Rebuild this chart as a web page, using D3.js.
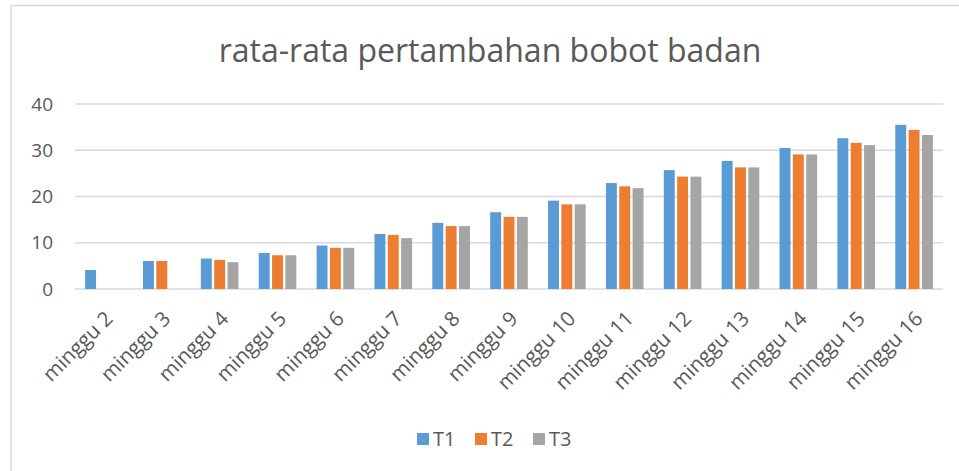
<!DOCTYPE html>
<html>
<head>
<meta charset="utf-8">
<script src="https://cdn.jsdelivr.net/npm/d3@7"></script>
<style>
  body { margin: 0; background: #fff; }
  text { font-family: "Open Sans", "Liberation Sans", sans-serif; fill: #595959; }
</style>
</head>
<body>
<svg id="chart"></svg>
<script>
// chart values
const categories = ['minggu 2', 'minggu 3', 'minggu 4', 'minggu 5', 'minggu 6', 'minggu 7', 'minggu 8',
  'minggu 9', 'minggu 10', 'minggu 11', 'minggu 12', 'minggu 13', 'minggu 14', 'minggu 15', 'minggu 16'];
const seriesNames = ['T1', 'T2', 'T3'];
const t1 = [4.1, 6.05, 6.6, 7.8, 9.4, 11.9, 14.3, 16.6, 19.1, 22.9, 25.7, 27.7, 30.5, 32.6, 35.5];
const t2 = [null, 6.05, 6.3, 7.3, 8.9, 11.7, 13.6, 15.6, 18.3, 22.2, 24.3, 26.3, 29.1, 31.6, 34.4];
const t3 = [null, null, 5.8, 7.3, 8.9, 11.0, 13.6, 15.6, 18.3, 21.8, 24.3, 26.3, 29.1, 31.1, 33.3];
const yTicks = [0, 10, 20, 30, 40];
const colors = ['#5B9BD5', '#ED7D31', '#A5A5A5'];

const width = 959, height = 471;
const margin = { top: 104, right: 16, bottom: 182, left: 75 };
const innerW = width - margin.left - margin.right;
const innerH = height - margin.top - margin.bottom;

const svg = d3.select('#chart').attr('width', width).attr('height', height);

// outer frame (top and left edges are visible in the picture)
svg.append('line').attr('x1', 11).attr('x2', width).attr('y1', 5.5).attr('y2', 5.5)
  .attr('stroke', '#d9d9d9').attr('stroke-width', 1.5);
svg.append('line').attr('x1', 11).attr('x2', 11).attr('y1', 5.5).attr('y2', height)
  .attr('stroke', '#d9d9d9').attr('stroke-width', 1.5);

const g = svg.append('g').attr('transform', `translate(${margin.left},${margin.top})`);

const x0 = d3.scaleBand().domain(categories).range([0, innerW]).paddingInner(0.35).paddingOuter(0.175);
const x1 = d3.scaleBand().domain(seriesNames).range([0, x0.bandwidth()]).paddingInner(0.18);
const y = d3.scaleLinear().domain([0, 40]).range([innerH, 0]);

// gridlines
g.append('g').selectAll('line').data(yTicks).join('line')
  .attr('x1', 0).attr('x2', innerW)
  .attr('y1', d => y(d)).attr('y2', d => y(d))
  .attr('stroke', '#d9d9d9').attr('stroke-width', 1.3);

// y axis labels
const yAxis = g.append('g').call(d3.axisLeft(y).tickValues(yTicks).tickSize(0).tickPadding(22));
yAxis.select('.domain').remove();
yAxis.selectAll('text').style('font-size', '19px').style('fill', '#595959')
  .style('font-family', '"Open Sans", sans-serif');

// bars
const table = categories.map((c, i) => ({ cat: c, vals: [t1[i], t2[i], t3[i]] }));
g.append('g').selectAll('g').data(table).join('g')
  .attr('transform', d => `translate(${x0(d.cat)},0)`)
  .selectAll('rect')
  .data(d => d.vals.map((v, k) => ({ key: seriesNames[k], v, k })).filter(e => e.v != null))
  .join('rect')
  .attr('x', d => x1(d.key))
  .attr('width', x1.bandwidth())
  .attr('y', d => y(d.v))
  .attr('height', d => y(0) - y(d.v))
  .attr('fill', d => colors[d.k]);

// x axis labels, rotated
const xAxis = g.append('g').attr('transform', `translate(0,${innerH})`)
  .call(d3.axisBottom(x0).tickSize(0).tickPadding(0));
xAxis.select('.domain').remove();
xAxis.selectAll('text')
  .style('font-size', '20.5px').style('fill', '#595959')
  .style('font-family', '"Open Sans", sans-serif')
  .attr('text-anchor', 'end')
  .attr('dy', null)
  .attr('transform', 'translate(10,31) rotate(-45)');

// title
svg.append('text').attr('x', 490).attr('y', 62).attr('text-anchor', 'middle')
  .style('font-size', '32px').text('rata-rata pertambahan bobot badan');

// legend
const legend = svg.append('g').attr('transform', 'translate(417,433)');
const items = legend.selectAll('g').data(seriesNames).join('g')
  .attr('transform', (d, i) => `translate(${i * 58},0)`);
items.append('rect').attr('width', 12).attr('height', 12).attr('fill', (d, i) => colors[i]);
items.append('text').attr('x', 16).attr('y', 13).style('font-size', '20px').text(d => d);
</script>
</body>
</html>
